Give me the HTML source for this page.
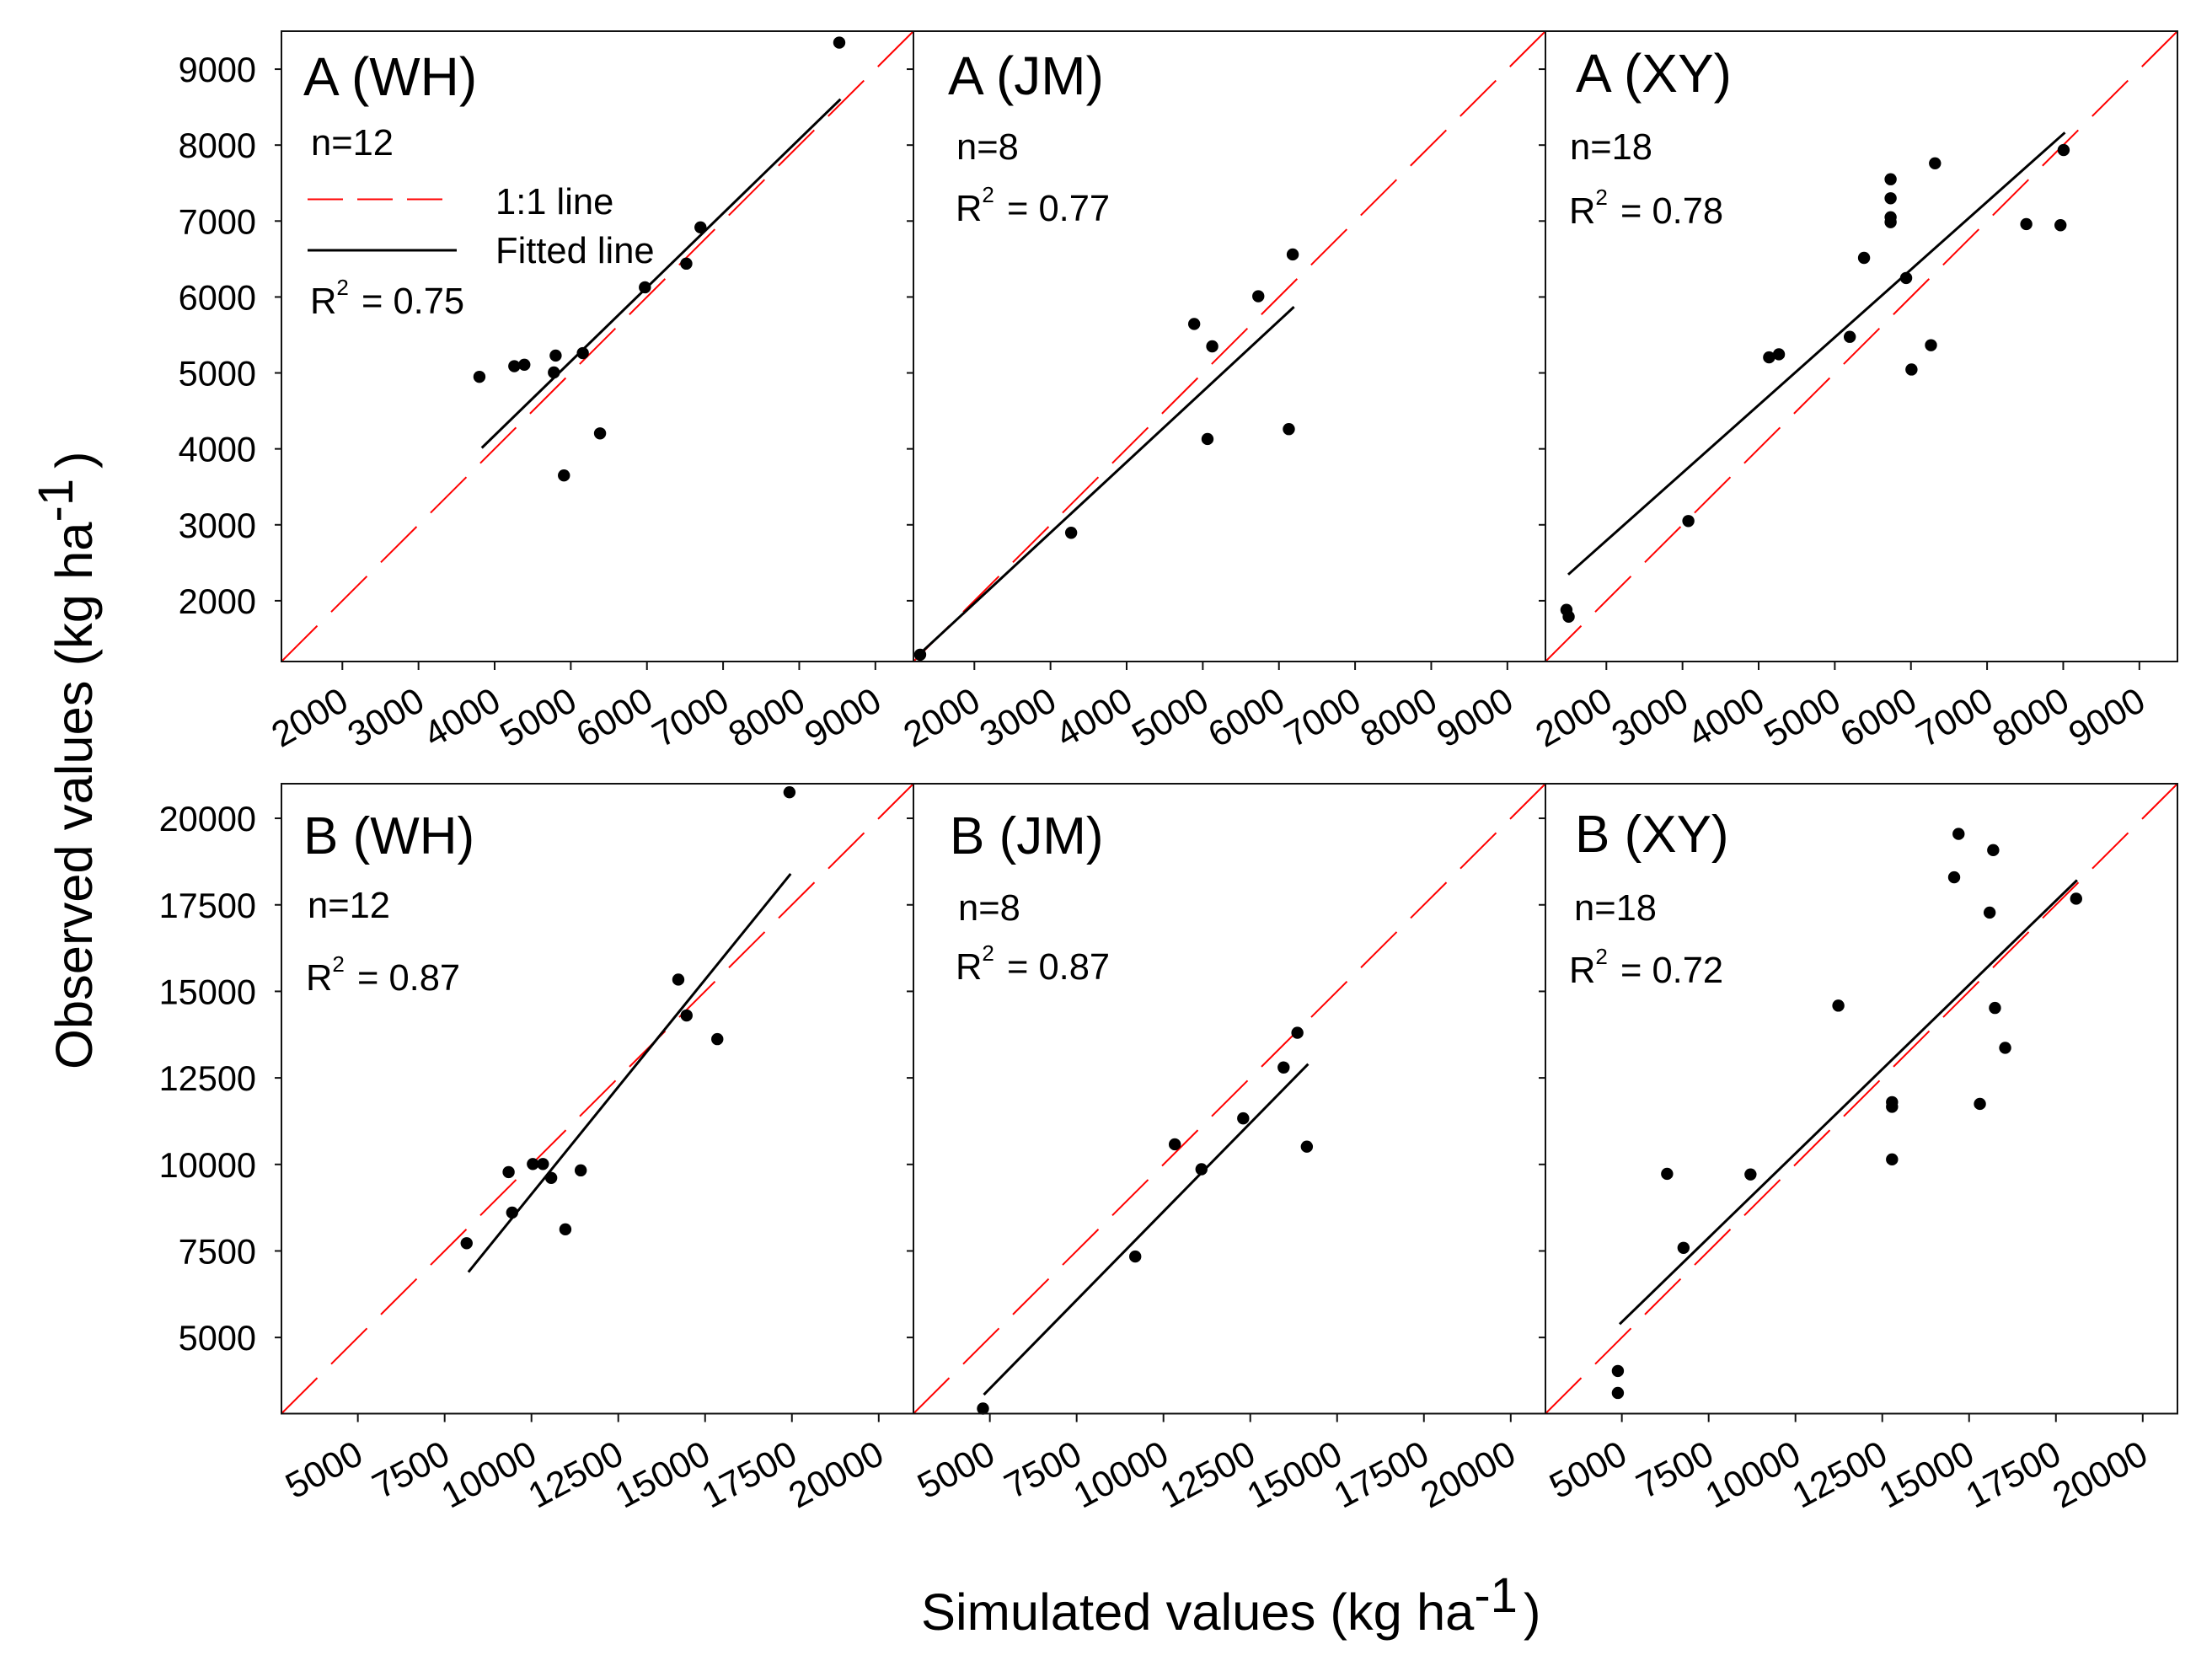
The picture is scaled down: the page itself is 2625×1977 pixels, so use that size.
<!DOCTYPE html>
<html lang="en">
<head>
<meta charset="utf-8">
<title>Simulated vs observed values</title>
<style>
  html, body { margin: 0; padding: 0; background: #fff; }
  svg { display: block; }
  text { font-family: "Liberation Sans", sans-serif; fill: #000; }
  .title { font-size: 64px; }
  .title-b { font-size: 62px; }
  .note { font-size: 43.5px; }
  .sup { font-size: 26px; }
  .tick { font-size: 41.5px; }
  .xtick { font-size: 43px; }
  .axis { font-size: 61.5px; }
  .axis-sup { font-size: 58px; }
</style>
</head>
<body>
<svg id="chart" xmlns="http://www.w3.org/2000/svg" width="2625" height="1977" viewBox="0 0 2625 1977">
  <rect x="0" y="0" width="2625" height="1977" fill="#fff"/>
  <g id="marks"></g>

  <text class="title" x="360" y="113">A (WH)</text>
  <text class="title" x="1125" y="112">A (JM)</text>
  <text class="title" x="1870" y="109">A (XY)</text>
  <text class="title-b" x="360" y="1013">B (WH)</text>
  <text class="title-b" x="1127" y="1013">B (JM)</text>
  <text class="title-b" x="1869" y="1011">B (XY)</text>

  <text class="note" x="369" y="184">n=12</text>
  <text class="note" x="1135" y="189">n=8</text>
  <text class="note" x="1863" y="189">n=18</text>
  <text class="note" x="365" y="1089">n=12</text>
  <text class="note" x="1137" y="1092">n=8</text>
  <text class="note" x="1868" y="1092">n=18</text>

  <text class="note" x="368" y="372">R<tspan class="sup" dy="-22">2</tspan><tspan dy="22" dx="3"> = 0.75</tspan></text>
  <text class="note" x="1134" y="262">R<tspan class="sup" dy="-22">2</tspan><tspan dy="22" dx="3"> = 0.77</tspan></text>
  <text class="note" x="1862" y="265">R<tspan class="sup" dy="-22">2</tspan><tspan dy="22" dx="3"> = 0.78</tspan></text>
  <text class="note" x="363" y="1175">R<tspan class="sup" dy="-22">2</tspan><tspan dy="22" dx="3"> = 0.87</tspan></text>
  <text class="note" x="1134" y="1162">R<tspan class="sup" dy="-22">2</tspan><tspan dy="22" dx="3"> = 0.87</tspan></text>
  <text class="note" x="1862" y="1166">R<tspan class="sup" dy="-22">2</tspan><tspan dy="22" dx="3"> = 0.72</tspan></text>

  <g>
    <line x1="365" y1="236.5" x2="526" y2="236.5" stroke="#f00" stroke-width="2" stroke-dasharray="42 17"/>
    <text class="note" x="588" y="254">1:1 line</text>
    <line x1="365" y1="297" x2="542" y2="297" stroke="#000" stroke-width="3"/>
    <text class="note" x="588" y="312">Fitted line</text>
  </g>

  <text class="axis" transform="translate(109 1269) rotate(-90)">Observed values (kg ha<tspan class="axis-sup" dy="-23">-1</tspan><tspan dy="23" x="713">)</tspan></text>
  <text class="axis" x="1093" y="1934">Simulated values (kg ha<tspan class="axis-sup" dy="-21">-1</tspan><tspan dy="21" x="1808">)</tspan></text>
</svg>
<script>
// Axis ranges and tick values
const rowADomain = [1200, 9500];
const rowBDomain = [2800, 21000];
const rowATicks = [2000, 3000, 4000, 5000, 6000, 7000, 8000, 9000];
const rowBTicks = [5000, 7500, 10000, 12500, 15000, 17500, 20000];

// Panel A (WH)
const aWhSim = [8526, 6703, 6517, 5973, 5158, 4801, 4778, 4390, 4258, 3800, 5384, 4910];
const aWhObs = [9350, 6917, 6439, 6127, 5261, 5229, 5006, 5108, 5089, 4949, 4204, 3650];
const aWhFitSim = [3831, 8542];
const aWhFitObs = [4013, 8605];

// Panel A (JM)
const aJmSim = [1288, 3271, 5062, 6130, 5124, 4887, 5729, 6181];
const aJmObs = [1290, 2895, 4130, 4260, 5350, 5645, 6010, 6560];
const aJmFitSim = [1250, 6198];
const aJmFitObs = [1270, 5870];

// Panel A (XY)
const aXySim = [1476, 1505, 3077, 4137, 4266, 5197, 5384, 5937, 6007, 6263, 5733, 5733, 5733, 5733, 6316, 7515, 7964, 8005];
const aXyObs = [1880, 1790, 3050, 5205, 5245, 5475, 6515, 6250, 5045, 5365, 7550, 7300, 7050, 6985, 7760, 6960, 6945, 7935];
const aXyFitSim = [1499, 8022];
const aXyFitObs = [2345, 8165];

// Panel B (WH)
const bWhSim = [17430, 14229, 14467, 15352, 11419, 10568, 10330, 10040, 9342, 9444, 10976, 8133];
const bWhObs = [20752, 15340, 14304, 13620, 9828, 9611, 10012, 10012, 9778, 8609, 8124, 7723];
const bWhFitSim = [8184, 17464];
const bWhFitObs = [6888, 18397];

// Panel B (JM)
const bJmSim = [4802, 9187, 10327, 11094, 12296, 13460, 13857, 14129];
const bJmObs = [2946, 7339, 10580, 9861, 11331, 12801, 13803, 10513];
const bJmFitSim = [4827, 14167];
const bJmFitObs = [3347, 12901];

// Panel B (XY)
const bXySim = [4885, 4885, 6303, 6776, 8705, 11235, 12781, 12781, 12781, 15311, 16039, 15745, 15592, 14570, 14697, 15694, 18083];
const bXyObs = [4032, 3397, 9728, 7590, 9711, 14588, 11799, 11665, 10145, 11749, 13369, 14521, 17277, 18296, 19549, 19081, 17678];
const bXyFitSim = [4936, 18109];
const bXyFitObs = [5385, 18213];

const NS = 'http://www.w3.org/2000/svg';
const root = document.getElementById('marks');

function makeEl(parent, tag, attrs) {
  const el = document.createElementNS(NS, tag);
  for (const k in attrs) el.setAttribute(k, attrs[k]);
  parent.appendChild(el);
  return el;
}

function drawPanel(cfg) {
  const x = v => cfg.left + (v - cfg.domain[0]) / (cfg.domain[1] - cfg.domain[0]) * cfg.width;
  const y = v => cfg.top + cfg.height - (v - cfg.domain[0]) / (cfg.domain[1] - cfg.domain[0]) * cfg.height;
  const bottom = cfg.top + cfg.height;

  const g = makeEl(root, 'g', {});
  
  

  const ref = makeEl(g, 'line', {
    x1: x(cfg.domain[0]), y1: y(cfg.domain[0]), x2: x(cfg.domain[1]), y2: y(cfg.domain[1]),
    stroke: '#f00', 'stroke-width': 2, 'stroke-dasharray': '60 23.3'
  });
  
  

  const fit = makeEl(g, 'line', {
    x1: x(cfg.fitSim[0]), y1: y(cfg.fitObs[0]), x2: x(cfg.fitSim[1]), y2: y(cfg.fitObs[1]),
    stroke: '#000', 'stroke-width': 3
  });
  
  

  cfg.sim.forEach((s, i) => {
    const dot = makeEl(g, 'circle', { cx: x(s), cy: y(cfg.obs[i]), r: 7.2, fill: '#000' });
    
    
  });

  const frame = makeEl(g, 'rect', {
    x: cfg.left, y: cfg.top, width: cfg.width, height: cfg.height,
    fill: 'none', stroke: '#111', 'stroke-width': 2
  });
  
  

  cfg.ticks.forEach(t => {
    const xt = makeEl(g, 'line', { x1: x(t), y1: bottom, x2: x(t), y2: bottom + 10, stroke: '#111', 'stroke-width': 2 });
    
    

    const px = x(t) + cfg.labelShift, py = bottom + cfg.labelDrop;
    const xl = makeEl(g, 'text', {
      class: 'xtick', 'text-anchor': 'end', x: px, y: py,
      transform: 'rotate(' + cfg.labelAngle + ' ' + px + ' ' + py + ')'
    });
    xl.textContent = String(t);
    
    

    const yt = makeEl(g, 'line', { x1: cfg.left - 8, y1: y(t), x2: cfg.left, y2: y(t), stroke: '#111', 'stroke-width': 2 });
    
    

    if (cfg.yLabels) {
      const yl = makeEl(g, 'text', { class: 'tick', 'text-anchor': 'end', x: 304, y: y(t) + 15 });
      yl.textContent = String(t);
      
      
    }
  });
}

const topRow = { top: 37, height: 748, domain: rowADomain, ticks: rowATicks, labelDrop: 55, labelShift: 10, labelAngle: -30 };
const lowRow = { top: 930, height: 747.5, domain: rowBDomain, ticks: rowBTicks, labelDrop: 57, labelShift: 9, labelAngle: -28 };

drawPanel({ ...topRow, id: 'a-wh', left: 334, width: 750, yLabels: true,  sim: aWhSim, obs: aWhObs, fitSim: aWhFitSim, fitObs: aWhFitObs });
drawPanel({ ...topRow, id: 'a-jm', left: 1084, width: 750, yLabels: false, sim: aJmSim, obs: aJmObs, fitSim: aJmFitSim, fitObs: aJmFitObs });
drawPanel({ ...topRow, id: 'a-xy', left: 1834, width: 750, yLabels: false, sim: aXySim, obs: aXyObs, fitSim: aXyFitSim, fitObs: aXyFitObs });
drawPanel({ ...lowRow, id: 'b-wh', left: 334, width: 750, yLabels: true,  sim: bWhSim, obs: bWhObs, fitSim: bWhFitSim, fitObs: bWhFitObs });
drawPanel({ ...lowRow, id: 'b-jm', left: 1084, width: 750, yLabels: false, sim: bJmSim, obs: bJmObs, fitSim: bJmFitSim, fitObs: bJmFitObs });
drawPanel({ ...lowRow, id: 'b-xy', left: 1834, width: 750, yLabels: false, sim: bXySim, obs: bXyObs, fitSim: bXyFitSim, fitObs: bXyFitObs });
</script>
</body>
</html>
